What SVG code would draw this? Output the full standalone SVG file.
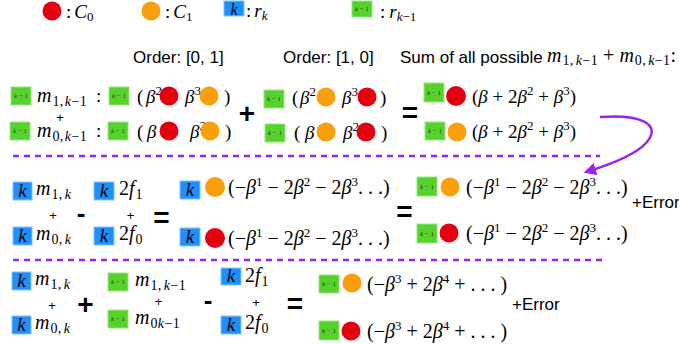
<svg xmlns="http://www.w3.org/2000/svg" width="679" height="344" viewBox="0 0 679 344">
<style>
.s{font-family:"Liberation Sans",Arial,sans-serif;font-size:17px;fill:#000}
.m{font-family:"Liberation Serif","Times New Roman",serif;font-size:19px;fill:#000}
.mm{font-family:"Liberation Serif","Times New Roman",serif;font-size:20px;fill:#000}
.i{font-style:italic}
.sb{font-size:13px}
.sm{font-size:14px;letter-spacing:0.4px}
.g{fill:#57d22d;stroke:#9be584;stroke-width:1}
.b{fill:#1e8fff;stroke:#86c4ff;stroke-width:1}
.tk{font-family:"Liberation Serif",serif;font-size:7px;fill:#1a3a0a;text-anchor:middle}
.bk{font-family:"Liberation Serif",serif;font-style:italic;font-size:19px;text-anchor:middle;fill:#000}
.r{fill:#e3000f}
.o{fill:#fa9f0c}
.op{font-family:"Liberation Sans",Arial,sans-serif;font-weight:bold;font-size:28px;text-anchor:middle;fill:#000}
.pl{font-family:"Liberation Sans",Arial,sans-serif;font-size:13px;text-anchor:middle;fill:#000}
.dash{stroke:#a020f0;stroke-width:2.5;stroke-dasharray:6 5;fill:none}
.arr{stroke:#a020f0;stroke-width:2.5;fill:none}
</style>
<defs>
<marker id="ah" viewBox="0 0 10 10" refX="8" refY="5" markerWidth="5" markerHeight="5" orient="auto" markerUnits="strokeWidth">
<path d="M0,0 L10,5 L0,10 Z" fill="#a020f0"/>
</marker>
</defs>

<g id="legend">
<circle class="r" cx="52" cy="11" r="9.5"/>
<text class="m" x="66" y="18">:<tspan class="i" dx="3">C</tspan><tspan class="sb" dy="3">0</tspan></text>
<circle class="o" cx="151" cy="11" r="9.5"/>
<text class="m" x="165" y="18">:<tspan class="i" dx="3">C</tspan><tspan class="sb" dy="3">1</tspan></text>
<rect class="b" x="224" y="1" width="20" height="15"/>
<text class="bk" x="234" y="14.5" style="font-size:16px">k</text>
<text class="m" x="246" y="17">:<tspan class="i" dx="3">r</tspan><tspan class="sb i" dy="3">k</tspan></text>
<rect class="g" x="352" y="1" width="20" height="16"/>
<text class="tk" x="362" y="11"><tspan class="i">k</tspan> − 1</text>
<text class="m" x="380" y="18">:<tspan class="i" dx="4">r</tspan><tspan class="sb i" dy="3">k</tspan><tspan class="sb">−1</tspan></text>
</g>

<g id="headers">
<text class="s" x="133" y="63">Order: [0, 1]</text>
<text class="s" x="283" y="63">Order: [1, 0]</text>
<text class="s" x="400" y="63">Sum of all possible</text>
<text class="mm" x="547" y="62"><tspan class="i">m</tspan><tspan class="sm" dy="3" dx="1">1,</tspan><tspan class="sm i" dx="2">k</tspan><tspan class="sm">−1</tspan><tspan dy="-3"> + </tspan><tspan class="i">m</tspan><tspan class="sm" dy="3" dx="1">0,</tspan><tspan class="sm i" dx="2">k</tspan><tspan class="sm">−1</tspan><tspan dy="-3">:</tspan></text>
</g>

<g id="row1-left">
<rect class="g" x="11" y="87" width="20" height="18"/>
<text class="tk" x="21" y="98"><tspan class="i">k</tspan> − 1</text>
<text class="mm" x="37" y="102"><tspan class="i">m</tspan><tspan class="sm" dy="4" dx="1">1,</tspan><tspan class="sm i" dx="1">k</tspan><tspan class="sm">−1</tspan></text>
<text class="m" x="96" y="102">:</text>
<rect class="g" x="109" y="87" width="20" height="18"/>
<text class="tk" x="119" y="98"><tspan class="i">k</tspan> − 1</text>
<text class="m" x="137" y="103">(</text>
<text class="m" x="146" y="103"><tspan class="i">β</tspan><tspan class="sb" dy="-8">2</tspan></text>
<circle class="r" cx="169" cy="96" r="9.5"/>
<text class="m" x="185" y="103"><tspan class="i">β</tspan><tspan class="sb" dy="-8">3</tspan></text>
<circle class="o" cx="209" cy="96" r="9.5"/>
<text class="m" x="224" y="103">)</text>
<text class="pl" x="60" y="122">+</text>
<rect class="g" x="10" y="122" width="20" height="18"/>
<text class="tk" x="20" y="133"><tspan class="i">k</tspan> − 1</text>
<text class="mm" x="37" y="137"><tspan class="i">m</tspan><tspan class="sm" dy="4" dx="1">0,</tspan><tspan class="sm i" dx="1">k</tspan><tspan class="sm">−1</tspan></text>
<text class="m" x="96" y="137">:</text>
<rect class="g" x="108" y="122" width="20" height="18"/>
<text class="tk" x="118" y="133"><tspan class="i">k</tspan> − 1</text>
<text class="m" x="137" y="138">(</text>
<text class="m" x="147" y="138"><tspan class="i">β</tspan></text>
<circle class="r" cx="169" cy="131" r="9.5"/>
<text class="m" x="190" y="138"><tspan class="i">β</tspan><tspan class="sb" dy="-8">2</tspan></text>
<circle class="o" cx="210" cy="131" r="9.5"/>
<text class="m" x="225" y="138">)</text>
</g>

<g id="row1-mid">
<text class="op" x="247" y="123">+</text>
<rect class="g" x="264" y="90" width="20" height="18"/>
<text class="tk" x="274" y="101"><tspan class="i">k</tspan> − 1</text>
<text class="m" x="292" y="104">(</text>
<text class="m" x="300" y="104"><tspan class="i">β</tspan><tspan class="sb" dy="-8">2</tspan></text>
<circle class="o" cx="326" cy="97" r="9.5"/>
<text class="m" x="342" y="104"><tspan class="i">β</tspan><tspan class="sb" dy="-8">3</tspan></text>
<circle class="r" cx="367" cy="97" r="9.5"/>
<text class="m" x="380" y="104">)</text>
<rect class="g" x="265" y="124" width="20" height="18"/>
<text class="tk" x="275" y="135"><tspan class="i">k</tspan> − 1</text>
<text class="m" x="294" y="139">(</text>
<text class="m" x="305" y="139"><tspan class="i">β</tspan></text>
<circle class="o" cx="326" cy="132" r="9.5"/>
<text class="m" x="343" y="139"><tspan class="i">β</tspan><tspan class="sb" dy="-8">2</tspan></text>
<circle class="r" cx="366" cy="132" r="9.5"/>
<text class="m" x="381" y="139">)</text>
</g>

<g id="row1-right">
<text class="op" x="410" y="122">=</text>
<rect class="g" x="424" y="83" width="20" height="19"/>
<text class="tk" x="434" y="95"><tspan class="i">k</tspan> − 1</text>
<circle class="r" cx="456" cy="96" r="10"/>
<text class="m" x="472" y="103">(<tspan class="i">β</tspan> + 2<tspan class="i">β</tspan><tspan class="sb" dy="-8">2</tspan><tspan dy="8"> + </tspan><tspan class="i">β</tspan><tspan class="sb" dy="-8">3</tspan><tspan dy="8">)</tspan></text>
<rect class="g" x="425" y="122" width="20" height="18"/>
<text class="tk" x="435" y="133"><tspan class="i">k</tspan> − 1</text>
<circle class="o" cx="457" cy="132" r="9.5"/>
<text class="m" x="472" y="138">(<tspan class="i">β</tspan> + 2<tspan class="i">β</tspan><tspan class="sb" dy="-8">2</tspan><tspan dy="8"> + </tspan><tspan class="i">β</tspan><tspan class="sb" dy="-8">3</tspan><tspan dy="8">)</tspan></text>
</g>

<g id="row2-left">
<rect class="b" x="13" y="182" width="19" height="18"/>
<text class="bk" x="22.5" y="197">k</text>
<text class="mm" x="36" y="195"><tspan class="i">m</tspan><tspan class="sm" dy="4" dx="1">1,</tspan><tspan class="sm i" dx="2">k</tspan></text>
<text class="pl" x="53" y="220">+</text>
<rect class="b" x="13" y="227" width="19" height="18"/>
<text class="bk" x="22.5" y="242">k</text>
<text class="mm" x="36" y="240"><tspan class="i">m</tspan><tspan class="sm" dy="4" dx="1">0,</tspan><tspan class="sm i" dx="2">k</tspan></text>
<text class="op" x="81" y="222" style="font-size:26px">-</text>
<rect class="b" x="94" y="182" width="20" height="18"/>
<text class="bk" x="104" y="197">k</text>
<text class="mm" x="119" y="195">2<tspan class="i">f</tspan><tspan class="sm" dy="4" dx="1">1</tspan></text>
<text class="pl" x="130.5" y="220">+</text>
<rect class="b" x="94" y="227" width="20" height="18"/>
<text class="bk" x="104" y="242">k</text>
<text class="mm" x="119" y="240">2<tspan class="i">f</tspan><tspan class="sm" dy="4" dx="1">0</tspan></text>
<text class="op" x="161.5" y="227">=</text>
</g>

<g id="row2-mid">
<rect class="b" x="180" y="181" width="20" height="18"/>
<text class="bk" x="190" y="196">k</text>
<circle class="o" cx="215" cy="187" r="10"/>
<text class="m" x="228" y="194" style="font-size:20px">(−<tspan class="i">β</tspan><tspan class="sb" dy="-8">1</tspan><tspan dy="8"> − 2</tspan><tspan class="i">β</tspan><tspan class="sb" dy="-8">2</tspan><tspan dy="8"> − 2</tspan><tspan class="i">β</tspan><tspan class="sb" dy="-8">3</tspan><tspan dy="8">. . .)</tspan></text>
<rect class="b" x="180" y="228" width="20" height="18"/>
<text class="bk" x="190" y="243">k</text>
<circle class="r" cx="215" cy="238" r="10"/>
<text class="m" x="228" y="245" style="font-size:20px">(−<tspan class="i">β</tspan><tspan class="sb" dy="-8">1</tspan><tspan dy="8"> − 2</tspan><tspan class="i">β</tspan><tspan class="sb" dy="-8">2</tspan><tspan dy="8"> − 2</tspan><tspan class="i">β</tspan><tspan class="sb" dy="-8">3</tspan><tspan dy="8">. . .)</tspan></text>
</g>

<g id="row2-right">
<text class="op" x="404.5" y="221">=</text>
<rect class="g" x="417" y="177" width="20" height="19"/>
<text class="tk" x="427" y="189"><tspan class="i">k</tspan> − 1</text>
<circle class="o" cx="450" cy="187" r="9.5"/>
<text class="m" x="466" y="194" style="font-size:20px">(−<tspan class="i">β</tspan><tspan class="sb" dy="-8">1</tspan><tspan dy="8"> − 2</tspan><tspan class="i">β</tspan><tspan class="sb" dy="-8">2</tspan><tspan dy="8"> − 2</tspan><tspan class="i">β</tspan><tspan class="sb" dy="-8">3</tspan><tspan dy="8">. . .)</tspan></text>
<rect class="g" x="417" y="224" width="20" height="19"/>
<text class="tk" x="427" y="236"><tspan class="i">k</tspan> − 1</text>
<circle class="r" cx="449" cy="233" r="9.5"/>
<text class="m" x="466" y="240" style="font-size:20px">(−<tspan class="i">β</tspan><tspan class="sb" dy="-8">1</tspan><tspan dy="8"> − 2</tspan><tspan class="i">β</tspan><tspan class="sb" dy="-8">2</tspan><tspan dy="8"> − 2</tspan><tspan class="i">β</tspan><tspan class="sb" dy="-8">3</tspan><tspan dy="8">. . .)</tspan></text>
<text class="s" x="632" y="208">+Error</text>
</g>

<g id="row3-left">
<rect class="b" x="12" y="272" width="19" height="18"/>
<text class="bk" x="21.5" y="287">k</text>
<text class="mm" x="35" y="285"><tspan class="i">m</tspan><tspan class="sm" dy="4" dx="1">1,</tspan><tspan class="sm i" dx="2">k</tspan></text>
<text class="pl" x="52" y="310">+</text>
<rect class="b" x="12" y="316" width="19" height="18"/>
<text class="bk" x="21.5" y="331">k</text>
<text class="mm" x="35" y="329"><tspan class="i">m</tspan><tspan class="sm" dy="4" dx="1">0,</tspan><tspan class="sm i" dx="2">k</tspan></text>
<text class="op" x="85.5" y="314">+</text>
<rect class="g" x="108" y="273" width="20" height="18"/>
<text class="tk" x="118" y="284"><tspan class="i">k</tspan> − 1</text>
<text class="mm" x="135" y="286"><tspan class="i">m</tspan><tspan class="sm" dy="4" dx="1">1,</tspan><tspan class="sm i" dx="2">k</tspan><tspan class="sm">−1</tspan></text>
<text class="pl" x="158.5" y="306">+</text>
<rect class="g" x="108" y="310" width="20" height="18"/>
<text class="tk" x="118" y="321"><tspan class="i">k</tspan> − 1</text>
<text class="mm" x="135" y="324"><tspan class="i">m</tspan><tspan class="sm" dy="4" dx="1">0</tspan><tspan class="sm i">k</tspan><tspan class="sm">−1</tspan></text>
<text class="op" x="208" y="309" style="font-size:26px">-</text>
<rect class="b" x="221" y="268" width="20" height="17"/>
<text class="bk" x="231" y="282">k</text>
<text class="mm" x="245" y="282">2<tspan class="i">f</tspan><tspan class="sm" dy="4" dx="1">1</tspan></text>
<text class="pl" x="256" y="307">+</text>
<rect class="b" x="221" y="316" width="20" height="18"/>
<text class="bk" x="231" y="331">k</text>
<text class="mm" x="245" y="329">2<tspan class="i">f</tspan><tspan class="sm" dy="4" dx="1">0</tspan></text>
<text class="op" x="295" y="313">=</text>
</g>

<g id="row3-right">
<rect class="g" x="319" y="275" width="20" height="18"/>
<text class="tk" x="329" y="286"><tspan class="i">k</tspan> − 1</text>
<circle class="o" cx="352" cy="283" r="9.5"/>
<text class="m" x="367" y="291" style="font-size:20px">(−<tspan class="i">β</tspan><tspan class="sb" dy="-8">3</tspan><tspan dy="8"> + 2</tspan><tspan class="i">β</tspan><tspan class="sb" dy="-8">4</tspan><tspan dy="8"> + . . . )</tspan></text>
<rect class="g" x="319" y="321" width="20" height="19"/>
<text class="tk" x="329" y="333"><tspan class="i">k</tspan> − 1</text>
<circle class="r" cx="351" cy="331" r="9.5"/>
<text class="m" x="367" y="338" style="font-size:20px">(−<tspan class="i">β</tspan><tspan class="sb" dy="-8">3</tspan><tspan dy="8"> + 2</tspan><tspan class="i">β</tspan><tspan class="sb" dy="-8">4</tspan><tspan dy="8"> + . . . )</tspan></text>
<text class="s" x="512" y="310">+Error</text>
</g>

<g id="connectors">
<line class="dash" x1="13" y1="156" x2="600" y2="156"/>
<line class="dash" x1="13" y1="260" x2="602" y2="260"/>
<path class="arr" d="M600,117 C640,114 662,124 647,142 C637,154 612,164 586,172" marker-end="url(#ah)"/>
</g>
</svg>
